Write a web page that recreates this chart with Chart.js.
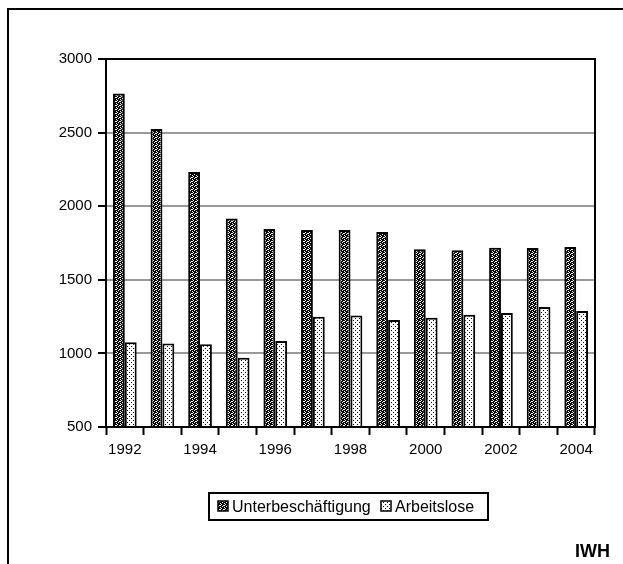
<!DOCTYPE html>
<html>
<head>
<meta charset="utf-8">
<script src="https://cdn.jsdelivr.net/npm/chart.js@4.4.0/dist/chart.umd.min.js"></script>
<style>
html,body{margin:0;padding:0;background:#fff;}
#wrap{width:623px;height:564px;position:relative;}
</style>
</head>
<body>
<div id="wrap"><canvas id="c" width="623" height="564"></canvas></div>
<script>
const years = ["1992","1993","1994","1995","1996","1997","1998","1999","2000","2001","2002","2003","2004"];
const unterbeschaeftigung = [2765, 2525, 2232, 1917, 1845, 1838, 1838, 1825, 1707, 1700, 1718, 1716, 1723];
const arbeitslose = [1075, 1067, 1062, 970, 1084, 1249, 1257, 1227, 1243, 1262, 1274, 1316, 1288];
const seriesNames = ["Unterbeschäftigung", "Arbeitslose"];
const yTicks = [500, 1000, 1500, 2000, 2500, 3000];
const sourceLabel = "IWH";

const FONT = "'Liberation Sans', Arial, sans-serif";

function makePattern(rows, fg, bg) {
  const h = rows.length, w = rows[0].length;
  const cv = document.createElement('canvas');
  cv.width = w; cv.height = h;
  const cx = cv.getContext('2d');
  cx.fillStyle = bg; cx.fillRect(0, 0, w, h);
  cx.fillStyle = fg;
  for (let y = 0; y < h; y++) for (let x = 0; x < w; x++) if (rows[y][x] === '1') cx.fillRect(x, y, 1, 1);
  return cx.createPattern(cv, 'repeat');
}
const ctx = document.getElementById('c').getContext('2d');
const patDense = makePattern(["1011","0110","1101","0111"], "#000", "#fff");
const patSparse = makePattern(["0100","0000","0001","0000"], "#000", "#fff");

const framePlugin = {
  id: 'frame',
  beforeDraw(chart) {
    const c = chart.ctx;
    c.save();
    c.fillStyle = '#fff';
    c.fillRect(0, 0, chart.width, chart.height);
    c.restore();
  },
  afterDraw(chart) {
    const c = chart.ctx;
    const a = chart.chartArea;
    c.save();
    // outer frame
    c.strokeStyle = '#000'; c.lineWidth = 2;
    c.strokeRect(8, 9, 640, 600);
    // plot frame
    c.strokeRect(a.left, a.top, a.right - a.left, a.bottom - a.top);
    // legend
    const lx = 209, ly = 493, lw = 279, lh = 27;
    c.lineWidth = 2;
    c.strokeRect(lx, ly, lw, lh);
    c.font = "16px " + FONT;
    c.textBaseline = 'middle';
    c.fillStyle = '#000';
    const items = [
      {x: 218, pat: patDense, text: seriesNames[0]},
      {x: 381, pat: patSparse, text: seriesNames[1]}
    ];
    items.forEach(it => {
      c.fillStyle = it.pat;
      c.fillRect(it.x, ly + 8, 10, 10);
      c.lineWidth = 1.5; c.strokeStyle = '#000';
      c.strokeRect(it.x, ly + 8, 10, 10);
      c.fillStyle = '#000';
      c.fillText(it.text, it.x + 14, ly + lh / 2 + 1);
    });
    // source label
    c.font = "bold 18px " + FONT;
    c.textAlign = 'right';
    c.textBaseline = 'alphabetic';
    c.fillText(sourceLabel, 610, 557);
    c.restore();
  }
};

new Chart(ctx, {
  type: 'bar',
  data: {
    labels: years,
    datasets: [
      {label: seriesNames[0], data: unterbeschaeftigung, backgroundColor: patDense, borderColor: '#000', borderWidth: 2, borderSkipped: false},
      {label: seriesNames[1], data: arbeitslose, backgroundColor: patSparse, borderColor: '#000', borderWidth: 2, borderSkipped: false}
    ]
  },
  options: {
    responsive: false,
    animation: false,
    devicePixelRatio: 1,
    layout: {padding: {left: 0, top: 59, right: 28, bottom: 0}},
    datasets: {bar: {categoryPercentage: 0.63, barPercentage: 1.0}},
    plugins: {legend: {display: false}, tooltip: {enabled: false}},
    scales: {
      x: {
        afterFit(s) { s.height = 137; },
        grid: {display: true, drawOnChartArea: false, drawTicks: true, tickLength: 8, tickColor: '#000', tickWidth: 2, offset: true},
        border: {display: true, color: '#000', width: 2},
        ticks: {
          autoSkip: false, maxRotation: 0, color: '#000', padding: 6,
          font: {family: FONT, size: 15},
          callback(v, i) { return i % 2 === 0 ? years[i] : ''; }
        }
      },
      y: {
        min: yTicks[0], max: yTicks[yTicks.length - 1],
        afterFit(s) { s.width = 106; },
        afterBuildTicks(s) { s.ticks = yTicks.map(v => ({value: v})); },
        grid: {color: '#999', lineWidth: 2, drawTicks: true, tickLength: 8, tickColor: '#000', tickWidth: 2},
        border: {display: true, color: '#000', width: 2},
        ticks: {color: '#000', padding: 6, font: {family: FONT, size: 15}, callback(v) { return String(v); }}
      }
    }
  },
  plugins: [framePlugin]
});
</script>
</body>
</html>
